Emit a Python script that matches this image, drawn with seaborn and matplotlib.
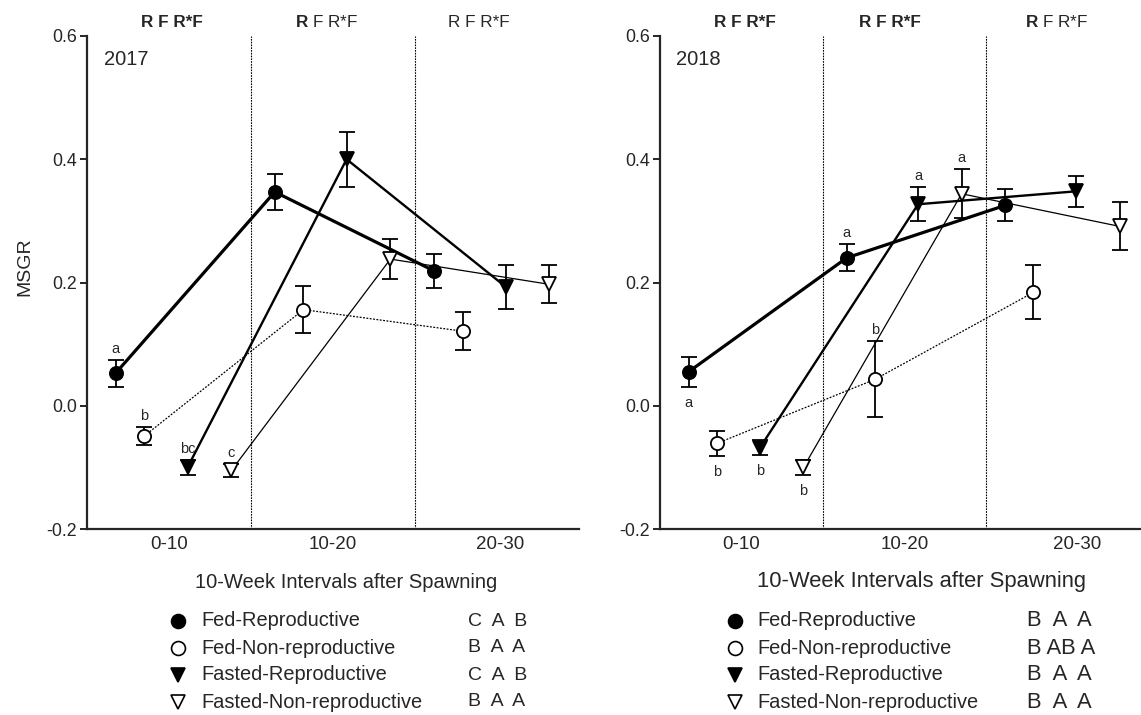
import numpy as np
import pandas as pd
import seaborn as sns
import matplotlib.pyplot as plt
from matplotlib.lines import Line2D

# ---- data ----
intervals = ['0-10', '10-20', '20-30']
groups = ['Fed-Reproductive', 'Fed-Non-reproductive',
          'Fasted-Reproductive', 'Fasted-Non-reproductive']

# 2017 means and SE (MSGR)
fed_rep_2017 = [0.053, 0.347, 0.219]
fed_rep_2017_se = [0.022, 0.029, 0.028]
fed_non_2017 = [-0.049, 0.156, 0.121]
fed_non_2017_se = [0.015, 0.038, 0.031]
fast_rep_2017 = [-0.100, 0.400, 0.193]
fast_rep_2017_se = [0.012, 0.045, 0.036]
fast_non_2017 = [-0.105, 0.238, 0.197]
fast_non_2017_se = [0.010, 0.033, 0.031]

# 2018 means and SE
fed_rep_2018 = [0.055, 0.240, 0.325]
fed_rep_2018_se = [0.024, 0.022, 0.026]
fed_non_2018 = [-0.061, 0.043, 0.184]
fed_non_2018_se = [0.020, 0.062, 0.044]
fast_rep_2018 = [-0.068, 0.327, 0.348]
fast_rep_2018_se = [0.012, 0.028, 0.025]
fast_non_2018 = [-0.100, 0.344, 0.291]
fast_non_2018_se = [0.012, 0.040, 0.039]

# significance letters [interval][group]
sig_2017 = [['a', 'b', 'bc', 'c'], ['', '', '', ''], ['', '', '', '']]
sig_side_2017 = ['above', 'above', 'above']
sig_2018 = [['a', 'b', 'b', 'b'], ['a', 'b', 'a', 'a'], ['', '', '', '']]
sig_side_2018 = ['below', 'above', 'above']

# header terms, bold = significant
terms = ['R', 'F', 'R*F']
bold_2017 = [[1, 1, 1], [1, 0, 0], [0, 0, 0]]
bold_2018 = [[1, 1, 1], [1, 1, 1], [1, 0, 0]]

# letters beside the legend
post_2017 = ['C  A  B', 'B  A  A', 'C  A  B', 'B  A  A']
post_2018 = ['B  A  A', 'B AB A', 'B  A  A', 'B  A  A']

# ---- layout / styles ----
group_step = 0.97
offsets = [0.175, 0.35, 0.613, 0.88]
styles = {
    'Fed-Reproductive': dict(marker='o', mfc='black', lw=2.3, ls='-', ms=9.5),
    'Fed-Non-reproductive': dict(marker='o', mfc='white', lw=0.9, ls=(0, (1.5, 1.2)), ms=9.5),
    'Fasted-Reproductive': dict(marker='v', mfc='black', lw=1.7, ls='-', ms=10),
    'Fasted-Non-reproductive': dict(marker='v', mfc='white', lw=0.9, ls='-', ms=10.5),
}

sns.set_style('ticks')
plt.rcParams['font.family'] = ['Liberation Sans', 'DejaVu Sans']
plt.rcParams['mathtext.fontset'] = 'custom'
plt.rcParams['mathtext.rm'] = 'Liberation Sans'
plt.rcParams['mathtext.bf'] = 'Liberation Sans:bold'
plt.rcParams['axes.unicode_minus'] = False

W, H = 1141, 715
fig = plt.figure(figsize=(W / 100, H / 100), dpi=100)
ax1 = fig.add_axes([87 / W, 1 - 529 / H, 492 / W, 493 / H])
ax2 = fig.add_axes([660 / W, 1 - 529 / H, 481 / W, 493 / H])


def make_df(means, ses):
    rows = []
    for j, g in enumerate(groups):
        for i, iv in enumerate(intervals):
            rows.append({'group': g, 'interval': iv,
                         'x': i * group_step + offsets[j],
                         'msgr': means[j][i], 'se': ses[j][i]})
    return pd.DataFrame(rows)


df17 = make_df([fed_rep_2017, fed_non_2017, fast_rep_2017, fast_non_2017],
               [fed_rep_2017_se, fed_non_2017_se, fast_rep_2017_se, fast_non_2017_se])
df18 = make_df([fed_rep_2018, fed_non_2018, fast_rep_2018, fast_non_2018],
               [fed_rep_2018_se, fed_non_2018_se, fast_rep_2018_se, fast_non_2018_se])


def draw_panel(ax, df, sig, sig_side, bold, head_x, tick_x, xmax, year):
    for g in groups:
        d = df[df.group == g]
        st = styles[g]
        ax.errorbar(d.x, d.msgr, yerr=d.se, fmt='none', ecolor='black',
                    elinewidth=1.3, capsize=5.5, capthick=1.3, zorder=2)
        sns.lineplot(data=d, x='x', y='msgr', ax=ax, color='black',
                     lw=st['lw'], linestyle=st['ls'], marker=st['marker'],
                     markersize=st['ms'], markerfacecolor=st['mfc'],
                     markeredgecolor='black', markeredgewidth=1.3,
                     errorbar=None, sort=False, zorder=3)

    for i, side in enumerate(sig_side):
        for j, g in enumerate(groups):
            lab = sig[i][j]
            if not lab:
                continue
            r = df[(df.group == g) & (df.interval == intervals[i])].iloc[0]
            if side == 'above':
                y, dy = r.msgr + r.se, 11
            else:
                y, dy = r.msgr - r.se, -16
            ax.annotate(lab, (r.x, y), xytext=(0, dy), textcoords='offset pixels',
                        ha='center', va='center', fontsize=10.5)

    for v in [1, 2]:
        ax.axvline(v, color='black', lw=0.8, ls=(0, (1.5, 1)), zorder=1)

    for hx, flags in zip(head_x, bold):
        if all(flags):
            ax.text(hx, 1.028, ' '.join(terms), transform=ax.get_xaxis_transform(),
                    ha='center', va='center', fontsize=12.3, fontweight='bold')
        else:
            s = ' '.join(r'$\mathbf{%s}$' % t if f else t for t, f in zip(terms, flags))
            ax.text(hx, 1.028, s, transform=ax.get_xaxis_transform(),
                    ha='center', va='center', fontsize=12.3)

    ax.text(0.034, 0.952, year, transform=ax.transAxes, ha='left', va='center',
            fontsize=14.5)

    ax.set_xlim(0, xmax)
    ax.set_ylim(-0.2, 0.6)
    ax.set_xticks(tick_x, intervals)
    yt = [-0.2, 0.0, 0.2, 0.4, 0.6]
    ax.set_yticks(yt, [f'{v:.1f}' for v in yt])
    ax.tick_params(axis='x', length=0, pad=5, labelsize=13.5)
    ax.tick_params(axis='y', length=5, width=1.4, pad=2, labelsize=12.8)
    ax.set_xlabel('')
    ax.set_ylabel('')
    for s in ['top', 'right']:
        ax.spines[s].set_visible(False)
    for s in ['left', 'bottom']:
        ax.spines[s].set_linewidth(1.6)


draw_panel(ax1, df17, sig_2017, sig_side_2017, bold_2017,
           [0.52, 1.46, 2.39], [0.5, 1.5, 2.52], 3.0, '2017')
draw_panel(ax2, df18, sig_2018, sig_side_2018, bold_2018,
           [0.52, 1.41, 2.43], [0.5, 1.5, 2.56], 2.95, '2018')

fig.text(25 / W, 1 - 267 / H, 'MSGR', rotation=90, ha='center', va='center',
         fontsize=14)
fig.text(346 / W, 1 - 582 / H, '10-Week Intervals after Spawning',
         ha='center', va='center', fontsize=14.5)
fig.text(757 / W, 1 - 582 / H, '10-Week Intervals after Spawning',
         ha='left', va='center', fontsize=15.8)

# manual legends
rows_px = [621, 648, 675, 702]
legend_cols = [(178, 201, 468, post_2017, 14), (735, 757, 1027, post_2018, 15.8)]
for mx, tx, lx, post, pfs in legend_cols:
    for k, g in enumerate(groups):
        y = 1 - rows_px[k] / H
        st = styles[g]
        fig.add_artist(Line2D([mx / W], [y], transform=fig.transFigure,
                              marker=st['marker'], ms=10, mfc=st['mfc'],
                              mec='black', mew=1.2, ls='none'))
        fig.text(tx / W, y, g, ha='left', va='center', fontsize=14.4)
        fig.text(lx / W, y, post[k], ha='left', va='center', fontsize=pfs)

fig.savefig('out.png', dpi=100)
